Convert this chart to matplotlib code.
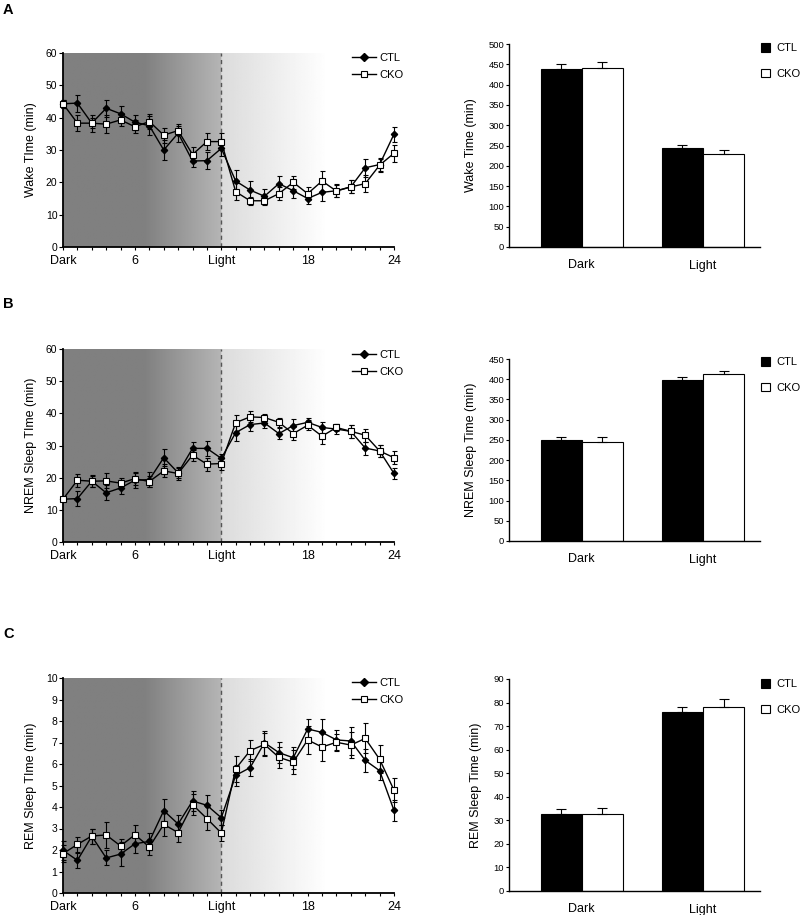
import numpy as np
import matplotlib
matplotlib.use("Agg")
import matplotlib.pyplot as plt
from matplotlib.lines import Line2D
from matplotlib.patches import Patch

plt.rcParams['font.family'] = ['Liberation Sans', 'DejaVu Sans']

# ---------------- data ----------------
hours = list(range(1, 25))
hour_ticks = [1, 6, 12, 18, 24]
hour_labels = ["Dark", "6", "Light", "18", "24"]

wake_ctl = [44.3, 44.5, 38.3, 42.9, 41.2, 38.6, 37.5, 30.0, 35.2, 26.6, 26.7, 30.5,
            20.4, 17.6, 15.7, 19.6, 17.4, 15.0, 16.9, 17.4, 18.6, 24.5, 25.5, 34.9]
wake_ctl_err = [1.2, 2.6, 2.6, 2.6, 2.4, 2.3, 3.0, 3.0, 2.8, 2.0, 2.6, 2.5,
                3.3, 2.7, 2.3, 2.5, 2.3, 1.8, 2.6, 2.0, 2.0, 2.7, 2.0, 2.3]
wake_cko = [44.3, 38.3, 38.3, 38.0, 39.3, 37.2, 38.8, 34.6, 36.0, 28.6, 32.6, 32.6,
            17.1, 14.3, 14.3, 16.5, 20.0, 16.5, 20.4, 17.3, 18.6, 19.6, 25.3, 29.0]
wake_cko_err = [1.2, 2.5, 1.5, 2.7, 2.0, 2.0, 2.3, 2.3, 1.4, 2.3, 2.6, 2.6,
                2.7, 1.3, 1.2, 2.0, 2.0, 2.0, 3.0, 1.8, 2.0, 2.6, 2.0, 2.6]

nrem_ctl = [13.3, 13.5, 18.9, 15.3, 16.8, 19.2, 19.4, 26.2, 21.5, 29.1, 29.1, 26.0,
            34.0, 36.5, 37.0, 33.7, 36.2, 37.2, 35.6, 35.1, 34.4, 29.2, 28.3, 21.3]
nrem_ctl_err = [0.5, 2.3, 1.8, 2.3, 2.0, 2.3, 2.3, 2.6, 1.6, 2.0, 2.3, 1.5,
                2.5, 2.0, 1.5, 1.8, 2.0, 1.5, 1.8, 1.5, 2.0, 2.0, 2.0, 1.8]
nrem_cko = [13.3, 19.2, 18.9, 19.0, 18.3, 19.7, 18.8, 22.1, 21.3, 27.0, 24.2, 24.4,
            37.1, 38.9, 38.7, 37.2, 33.7, 36.3, 32.9, 35.6, 34.4, 33.2, 28.3, 26.2]
nrem_cko_err = [0.5, 2.0, 1.7, 2.3, 1.5, 2.0, 1.7, 2.0, 2.0, 1.7, 2.0, 2.0,
                2.5, 1.7, 1.2, 1.5, 2.0, 1.5, 2.3, 1.2, 2.0, 2.0, 2.0, 2.0]

rem_ctl = [1.98, 1.52, 2.64, 1.63, 1.81, 2.29, 2.40, 3.83, 3.21, 4.28, 4.08, 3.50,
           5.47, 5.83, 6.99, 6.53, 6.29, 7.63, 7.47, 7.12, 7.07, 6.17, 5.69, 3.84]
rem_ctl_err = [0.45, 0.35, 0.35, 0.35, 0.55, 0.45, 0.40, 0.55, 0.40, 0.45, 0.50, 0.35,
               0.50, 0.40, 0.55, 0.50, 0.50, 0.45, 0.60, 0.45, 0.65, 0.55, 0.45, 0.50]
rem_cko = [1.83, 2.26, 2.65, 2.70, 2.19, 2.71, 2.14, 3.19, 2.81, 4.11, 3.46, 2.79,
           5.78, 6.62, 6.91, 6.31, 6.09, 7.12, 6.79, 7.01, 6.88, 7.19, 6.22, 4.78]
rem_cko_err = [0.40, 0.35, 0.35, 0.60, 0.30, 0.45, 0.35, 0.55, 0.45, 0.50, 0.55, 0.35,
               0.60, 0.50, 0.55, 0.50, 0.55, 0.65, 0.65, 0.40, 0.60, 0.70, 0.65, 0.55]

phases = ["Dark", "Light"]
wake_tot_ctl = [438, 245]
wake_tot_ctl_err = [12, 7]
wake_tot_cko = [442, 229.5]
wake_tot_cko_err = [14, 10]
nrem_tot_ctl = [249, 399]
nrem_tot_ctl_err = [8, 7]
nrem_tot_cko = [245, 412]
nrem_tot_cko_err = [12, 9]
rem_tot_ctl = [32.7, 76.1]
rem_tot_ctl_err = [2.3, 2.0]
rem_tot_cko = [32.6, 78.2]
rem_tot_cko_err = [2.8, 3.4]

# ---------------- figure ----------------
W, H = 800, 915
fig = plt.figure(figsize=(W / 100, H / 100), dpi=100)


def fax(left, top, right, bottom):
    return fig.add_axes([left / W, 1 - bottom / H, (right - left) / W, (bottom - top) / H])


def background(ax, ymax):
    xs = np.linspace(1, 24, 600)
    g = np.interp(xs, [1, 6.6, 11.999, 12.0, 19.4, 24],
                  [0.50, 0.50, 0.71, 0.86, 1.0, 1.0])
    img = np.tile(g, (2, 1))
    ax.imshow(img, cmap='gray', vmin=0, vmax=1, aspect='auto',
              extent=[1, 24, 0, ymax], origin='lower', zorder=0,
              interpolation='bilinear')


def line_panel(ax, ctl, ctl_err, cko, cko_err, ymax, ystep, ylabel):
    background(ax, ymax)
    ax.axvline(12, color='#555555', lw=1.0, ls=(0, (3, 2.5)), zorder=1)
    ax.errorbar(hours, ctl, yerr=ctl_err, color='black', lw=1.0, elinewidth=0.8,
                capsize=1.8, capthick=0.8, marker='D', ms=3.2, mfc='black', mec='black',
                zorder=3, clip_on=False)
    ax.errorbar(hours, cko, yerr=cko_err, color='black', lw=1.0, elinewidth=0.8,
                capsize=1.8, capthick=0.8, marker='s', ms=4.8, mfc='white', mec='black',
                mew=0.8, zorder=4, clip_on=False)
    ax.set_xlim(1, 24)
    ax.set_ylim(0, ymax)
    ax.set_xticks(hour_ticks)
    ax.set_xticklabels(hour_labels, fontsize=9)
    ax.set_xticks(hours, minor=True)
    ax.set_yticks(np.arange(0, ymax + ystep / 2, ystep))
    ax.tick_params(axis='y', labelsize=7.5, length=3, width=0.8, pad=1)
    ax.tick_params(axis='x', which='both', length=2.5, width=0.8, pad=3)
    for s in ['top', 'right']:
        ax.spines[s].set_visible(False)
    for s in ['left', 'bottom']:
        ax.spines[s].set_linewidth(1.3)
    ax.set_ylabel(ylabel, fontsize=9, labelpad=6)
    handles = [Line2D([], [], color='black', lw=1.0, marker='D', ms=3.6, mfc='black'),
               Line2D([], [], color='black', lw=1.0, marker='s', ms=5, mfc='white', mew=0.8)]
    return handles


def bar_panel(ax, ctl, ctl_err, cko, cko_err, ymax, ystep, ylabel):
    x = np.arange(len(phases))
    w = 0.34
    ax.bar(x - w / 2, ctl, w, color='black', edgecolor='black', lw=0.8,
           yerr=[[0] * len(ctl), ctl_err], capsize=3.5,
           error_kw=dict(elinewidth=0.8, capthick=0.8, ecolor='black'))
    ax.bar(x + w / 2, cko, w, color='white', edgecolor='black', lw=0.8,
           yerr=[[0] * len(cko), cko_err], capsize=3.5,
           error_kw=dict(elinewidth=0.8, capthick=0.8, ecolor='black'))
    ax.set_xlim(-0.60, 1.47)
    ax.set_ylim(0, ymax)
    ax.set_xticks(x)
    ax.set_xticklabels(phases, fontsize=9)
    ax.tick_params(axis='x', length=0, pad=9)
    ax.set_yticks(np.arange(0, ymax + ystep / 2, ystep))
    ax.tick_params(axis='y', labelsize=6.8, length=2.5, width=0.8, pad=1)
    for s in ['top', 'right']:
        ax.spines[s].set_visible(False)
    for s in ['left', 'bottom']:
        ax.spines[s].set_linewidth(1.0)
    ax.set_ylabel(ylabel, fontsize=9, labelpad=8)
    handles = [Patch(facecolor='black', edgecolor='black', lw=0.8),
               Patch(facecolor='white', edgecolor='black', lw=0.8)]
    return handles


line_specs = [
    ((63, 53, 394, 247), wake_ctl, wake_ctl_err, wake_cko, wake_cko_err, 60, 10, "Wake TIme (min)", 53),
    ((63, 349, 394, 542), nrem_ctl, nrem_ctl_err, nrem_cko, nrem_cko_err, 60, 10, "NREM Sleep TIme (min)", 350),
    ((63, 678, 394, 893), rem_ctl, rem_ctl_err, rem_cko, rem_cko_err, 10, 1, "REM Sleep TIme (min)", 678),
]
bar_specs = [
    ((509, 44, 760, 247), wake_tot_ctl, wake_tot_ctl_err, wake_tot_cko, wake_tot_cko_err, 500, 50, "Wake Time (min)", 43),
    ((509, 359, 760, 541), nrem_tot_ctl, nrem_tot_ctl_err, nrem_tot_cko, nrem_tot_cko_err, 450, 50, "NREM Sleep Time (min)", 357),
    ((509, 679, 760, 891), rem_tot_ctl, rem_tot_ctl_err, rem_tot_cko, rem_tot_cko_err, 90, 10, "REM Sleep Time (min)", 679),
]

for box, c, ce, k, ke, ymax, ystep, yl, legtop in line_specs:
    ax = fax(*box)
    hd = line_panel(ax, c, ce, k, ke, ymax, ystep, yl)
    fig.legend(hd, ["CTL", "CKO"], loc='upper left',
               bbox_to_anchor=(352 / W, 1 - legtop / H), frameon=False,
               fontsize=8, handlelength=2.2, handletextpad=0.3,
               borderpad=0, borderaxespad=0, labelspacing=0.6)

for box, c, ce, k, ke, ymax, ystep, yl, legtop in bar_specs:
    ax = fax(*box)
    hd = bar_panel(ax, c, ce, k, ke, ymax, ystep, yl)
    fig.legend(hd, ["CTL", "CKO"], loc='upper left',
               bbox_to_anchor=(761 / W, 1 - legtop / H), frameon=False,
               fontsize=8, handlelength=0.8, handleheight=0.8, handletextpad=0.6,
               borderpad=0, borderaxespad=0, labelspacing=1.4)

for letter, ybase in [("A", 14), ("B", 308), ("C", 638)]:
    fig.text(3 / W, 1 - ybase / H, letter, fontsize=10.5, fontweight='bold',
             ha='left', va='baseline')

fig.savefig("out.png", dpi=100)
